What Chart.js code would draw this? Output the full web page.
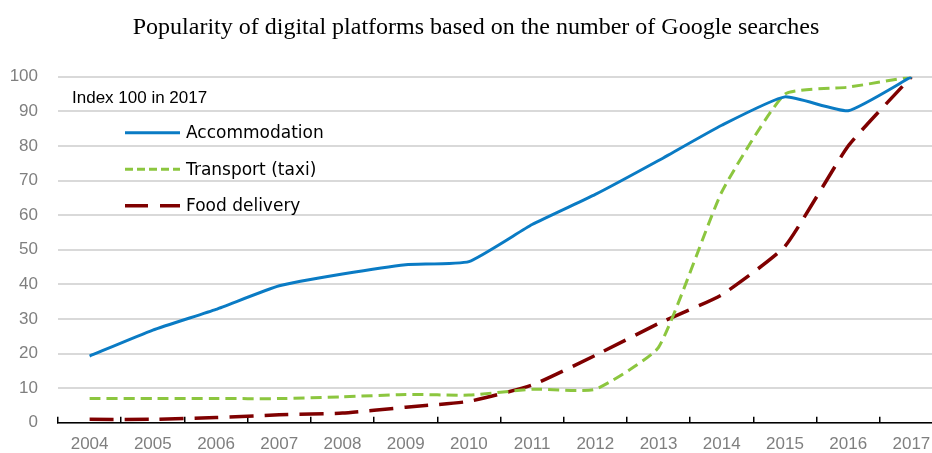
<!DOCTYPE html>
<html>
<head>
<meta charset="utf-8">
<script src="https://cdn.jsdelivr.net/npm/chart.js@4/dist/chart.umd.min.js"></script>
<style>
    html, body { margin: 0; padding: 0; background: #fff; overflow: hidden; }
    #wrap { width: 932px; height: 453px; overflow: hidden; }
    #chart { display: block; }
</style>
</head>
<body>
<div id="wrap">
    <canvas id="chart" width="952" height="453"></canvas>
</div>
<script>
// --- Data ---
const years = ['2004', '2005', '2006', '2007', '2008', '2009', '2010', '2011', '2012', '2013', '2014', '2015', '2016', '2017'];
const accommodation = [19.3, 26.8, 32.8, 39.6, 43.0, 45.7, 46.6, 57.3, 66.0, 75.8, 86.0, 94.2, 90.2, 100];
const transport = [7.0, 7.0, 7.0, 7.0, 7.5, 8.2, 8.0, 9.7, 9.7, 21.8, 66.7, 95.0, 97.0, 100];
const foodDelivery = [1.0, 1.0, 1.5, 2.3, 2.8, 4.5, 6.2, 10.9, 19.5, 28.7, 37.0, 51.0, 80.0, 100];
const yTicks = [0, 10, 20, 30, 40, 50, 60, 70, 80, 90, 100];

const titleText = 'Popularity of digital platforms based on the number of Google searches';
const noteText = 'Index 100 in 2017';

// --- Legend drawn inside the plot (top left) ---
const insideLegend = {
    id: 'insideLegend',
    afterDatasetsDraw(chart) {
        const ctx = chart.ctx;
        const left = chart.chartArea.left;
        const top = chart.chartArea.top;
        ctx.save();
        ctx.fillStyle = '#000';
        ctx.textBaseline = 'middle';
        ctx.font = '17px "Liberation Sans", Arial, sans-serif';
        ctx.fillText(noteText, left + 14, top + 22);

        ctx.font = '17px "DejaVu Sans", Verdana, sans-serif';
        chart.data.datasets.forEach((ds, i) => {
            const y = top + 56 + i * 36.5;
            ctx.beginPath();
            ctx.strokeStyle = ds.borderColor;
            ctx.lineWidth = ds.borderWidth;
            ctx.setLineDash(ds.legendDash);
            ctx.moveTo(left + 67, y);
            ctx.lineTo(left + 122, y);
            ctx.stroke();
            ctx.setLineDash([]);
            ctx.fillText(ds.label, left + 128, y + 1);
        });
        ctx.restore();
    }
};

new Chart(document.getElementById('chart'), {
    type: 'line',
    data: {
        labels: years,
        datasets: [
            {
                label: 'Accommodation',
                data: accommodation,
                borderColor: '#0A7BC4',
                borderWidth: 3,
                legendDash: []
            },
            {
                label: 'Transport (taxi)',
                data: transport,
                borderColor: '#8CC63F',
                borderWidth: 3,
                borderDash: [11, 6],
                legendDash: [8, 4]
            },
            {
                label: 'Food delivery',
                data: foodDelivery,
                borderColor: '#7F0000',
                borderWidth: 3.5,
                borderDash: [24, 11],
                legendDash: [23, 12]
            }
        ]
    },
    options: {
        responsive: false,
        animation: false,
        layout: { padding: { left: 9, right: 9, top: 0, bottom: 0 } },
        elements: {
            point: { radius: 0, hoverRadius: 0 },
            line: { tension: 0.15, fill: false }
        },
        plugins: {
            legend: { display: false },
            tooltip: { enabled: false },
            title: {
                display: true,
                text: titleText,
                color: '#000',
                font: { family: '"Liberation Serif", "Times New Roman", serif', size: 24, weight: 'normal', lineHeight: 1.2 },
                padding: { top: 13, bottom: 35 }
            }
        },
        scales: {
            x: {
                offset: true,
                afterFit: (scale) => { scale.paddingLeft = 0; scale.paddingRight = 0; scale.height = 28; },
                grid: {
                    offset: true,
                    drawOnChartArea: false,
                    drawTicks: true,
                    tickLength: -6,
                    color: '#000',
                    lineWidth: 1.5
                },
                border: { display: true, color: '#000', width: 1.5 },
                ticks: {
                    color: '#7F7F7F',
                    padding: 17,
                    maxRotation: 0,
                    font: { family: '"Liberation Sans", Arial, sans-serif', size: 17 }
                }
            },
            y: {
                min: 0,
                max: 100,
                afterFit: (scale) => { scale.width = 49; },
                afterBuildTicks: (scale) => { scale.ticks = yTicks.map(v => ({ value: v })); },
                grid: { color: '#D9D9D9', lineWidth: 2, drawTicks: false },
                border: { display: false },
                ticks: {
                    color: '#7F7F7F',
                    padding: 20,
                    font: { family: '"Liberation Sans", Arial, sans-serif', size: 17 }
                }
            }
        }
    },
    plugins: [insideLegend]
});
</script>
</body>
</html>
